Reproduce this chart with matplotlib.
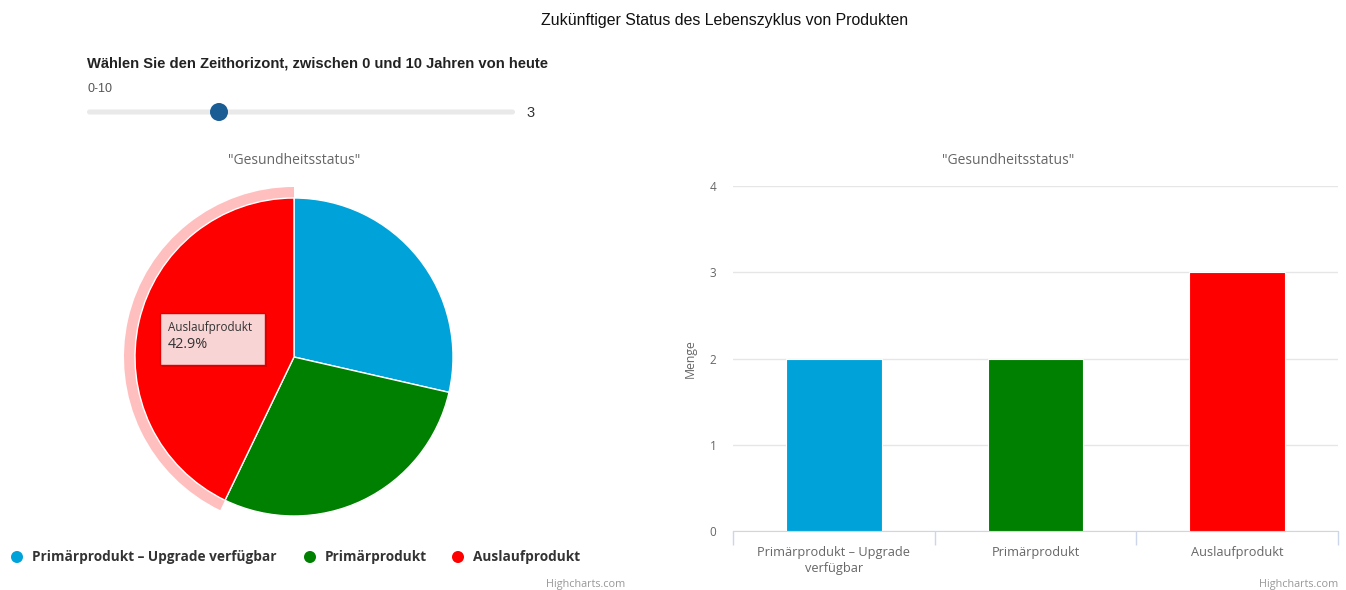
import matplotlib
matplotlib.use("Agg")
import matplotlib.pyplot as plt
from matplotlib.patches import Wedge, Rectangle, Circle, FancyBboxPatch

# ---- data ----
title = "Zukünftiger Status des Lebenszyklus von Produkten"
slider_label = "Wählen Sie den Zeithorizont, zwischen 0 und 10 Jahren von heute"
slider_range = "0-10"
slider_min, slider_max, slider_value = 0, 10, 3
subtitle = '"Gesundheitsstatus"'
categories = ["Primärprodukt – Upgrade verfügbar", "Primärprodukt", "Auslaufprodukt"]
bar_labels = ["Primärprodukt – Upgrade\nverfügbar", "Primärprodukt", "Auslaufprodukt"]
values = [2, 2, 3]
colors = ["#00A3D9", "#008000", "#FF0000"]
y_ticks = [0, 1, 2, 3, 4]
y_label = "Menge"
highlight_index = 2

W, H = 1346, 590
fig = plt.figure(figsize=(W / 100, H / 100), dpi=100)
FONT = ["Open Sans", "DejaVu Sans"]
TFONT = ["Liberation Sans", "DejaVu Sans"]

def px_axes(left, top, width, height, **kw):
    return fig.add_axes([left / W, (H - top - height) / H, width / W, height / H], **kw)

# ---- pie ----
R = 159
pa = px_axes(294 - 200, 357 - 200, 400, 400)
wedges, _ = pa.pie(values, colors=colors, radius=R, startangle=90, counterclock=False,
                   wedgeprops=dict(edgecolor="white", linewidth=1))
pa.set_xlim(-200, 200)
pa.set_ylim(-200, 200)
pa.set_aspect("equal")
pa.axis("off")
hw = wedges[highlight_index]
pa.add_patch(Wedge((0, 0), R + 11, hw.theta1, hw.theta2, width=11,
                   fc="#ffbfbf", ec="none", zorder=0))

# overlay in pixel coordinates
ov = px_axes(0, 0, W, H, zorder=5)
ov.set_xlim(0, W)
ov.set_ylim(H, 0)
ov.axis("off")
ov.patch.set_alpha(0)

ov.text(725, 21, title, ha="center", va="center", fontsize=11.4, color="#111111",
        family=TFONT)
ov.text(87, 64, slider_label, ha="left", va="center", fontsize=10.65, color="#222222",
        family=TFONT, fontweight="bold")
ov.text(87, 89, slider_range, ha="left", va="center", fontsize=9, color="#555555", family=TFONT)

# slider
x0, x1, yk = 87, 515, 112
ov.add_patch(FancyBboxPatch((x0, yk - 2.5), x1 - x0, 5, boxstyle="round,pad=0,rounding_size=2.5",
                            fc="#e9e9e9", ec="none"))
kx = x0 + 9 + (x1 - x0 - 18) * (slider_value - slider_min) / (slider_max - slider_min)
ov.add_patch(Circle((kx, yk), 9, fc="#1a5c94", ec="none"))
ov.text(526, yk + 1, str(slider_value), ha="left", va="center", fontsize=10.5, color="#333333", family=TFONT)

# subtitles
ov.text(294, 160, subtitle, ha="center", va="center", fontsize=10, color="#666666", family=FONT)
ov.text(1008, 160, subtitle, ha="center", va="center", fontsize=10, color="#666666", family=FONT)

# credits
ov.text(625, 584, "Highcharts.com", ha="right", va="center", fontsize=7.8, color="#999999", family=FONT)
ov.text(1338, 584, "Highcharts.com", ha="right", va="center", fontsize=7.8, color="#999999", family=FONT)

# legend
lx = [17, 310, 458]
for x, c, lab in zip(lx, colors, categories):
    ov.add_patch(Circle((x, 557), 6, fc=c, ec="none"))
    ov.text(x + 15, 557, lab, ha="left", va="center", fontsize=9.8, fontweight="bold",
            color="#333333", family=FONT)

# tooltip
pct = values[highlight_index] / sum(values) * 100
ov.add_patch(Rectangle((162, 315), 105, 52, fc="#000000", alpha=0.12, ec="none"))
ov.add_patch(Rectangle((160, 313), 105, 52, fc="#f8d4d4", ec="#e00000", lw=1))
ov.text(168, 328, categories[highlight_index], ha="left", va="center", fontsize=8.4,
        color="#333333", family=FONT)
ov.text(168, 345, f"{pct:.1f}%", ha="left", va="center", fontsize=10.4,
        color="#333333", family=FONT)

# ---- bar chart ----
ba = px_axes(733, 186, 605, 345)
xs = list(range(len(values)))
ba.bar(xs, values, width=0.476, color=colors, edgecolor="white", linewidth=0.8, zorder=3)
ba.set_xlim(-0.5, len(values) - 0.5)
ba.set_ylim(0, 4)
ba.set_yticks(y_ticks)
ba.set_yticklabels([str(t) for t in y_ticks], fontsize=8.5, color="#666666", family=FONT)
ba.set_xticks(xs)
ba.set_xticklabels(bar_labels, fontsize=9.2, color="#666666", family=FONT, linespacing=1.25)
ba.set_xticks([i - 0.5 for i in range(len(values) + 1)], minor=True)
ba.tick_params(axis="x", which="major", length=0, pad=11)
ba.tick_params(axis="x", which="minor", length=10, color="#ccd6eb", width=1)
ba.tick_params(axis="y", length=0, pad=12)
ba.yaxis.grid(True, color="#e6e6e6", linewidth=1, zorder=0)
ba.set_axisbelow(True)
for s in ["top", "right", "left"]:
    ba.spines[s].set_visible(False)
ba.spines["bottom"].set_color("#ccd6eb")
ba.set_ylabel(y_label, fontsize=8.8, color="#666666", family=FONT, labelpad=9)

fig.savefig("out.png", dpi=100)
